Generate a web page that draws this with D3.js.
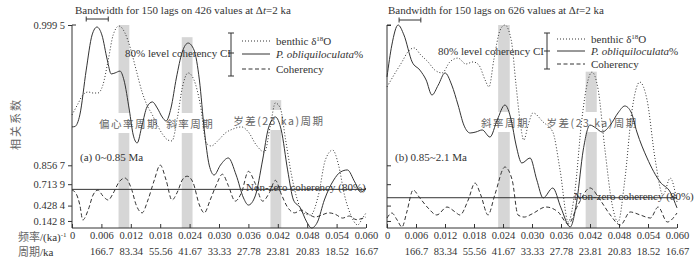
<!DOCTYPE html>
<html><head><meta charset="utf-8">
<script src="https://cdn.jsdelivr.net/npm/d3@7"></script>
<style>
body{margin:0;background:#fff}
svg{display:block}
text{font-family:"Liberation Serif","Times New Roman",serif;fill:#333}
.cjk{font-family:"Noto Sans CJK SC",sans-serif;fill:#666}
</style>
</head><body><svg id="c" width="700" height="262"></svg>
<script>
// ---------------- data ----------------
const freqTicks = [0,0.006,0.012,0.018,0.024,0.030,0.036,0.042,0.048,0.054,0.060];
const freqTickLabels = ["0","0.006","0.012","0.018","0.024","0.030","0.036","0.042","0.048","0.054","0.060"];
const periodLabels = ["","166.7","83.34","55.56","41.67","33.33","27.78","23.81","20.83","18.52","16.67"];
const coherencyTicks = [0.1428,0.4284,0.7139,0.8567,0.9995];
const coherencyTickLabels = ["0.142 8","0.428 4","0.713 9","0.856 7","0.999 5"];

// panel (a) 0~0.85 Ma — relative spectral power (0..1) and coherency
const obliqFreqA = [0,0.0006,0.0016,0.0029,0.0041,0.0051,0.0061,0.0072,0.008,0.0088,0.0098,0.0106,0.0117,0.0125,0.0133,0.0143,0.0153,0.0164,0.0174,0.0184,0.0192,0.0202,0.0213,0.0225,0.0237,0.0249,0.026,0.027,0.028,0.029,0.0303,0.0319,0.0335,0.035,0.036,0.0374,0.0389,0.0401,0.0415,0.0427,0.044,0.0452,0.0466,0.0479,0.0489,0.0501,0.0515,0.0534,0.0548,0.0562,0.0577,0.0589,0.06];
const obliqA = [0.498,0.50,0.557,0.778,0.951,0.99,0.951,0.828,0.759,0.764,0.773,0.729,0.581,0.458,0.419,0.507,0.596,0.621,0.591,0.547,0.527,0.591,0.739,0.867,0.911,0.877,0.729,0.483,0.31,0.261,0.31,0.345,0.261,0.148,0.113,0.158,0.335,0.493,0.547,0.483,0.286,0.138,0.099,0.03,0.0,0.03,0.138,0.236,0.276,0.286,0.227,0.177,0.197];
const benthicFreqA = [0,0.0012,0.0022,0.0033,0.0043,0.0053,0.0063,0.0074,0.0084,0.0096,0.0108,0.0119,0.0131,0.0143,0.0153,0.0164,0.0174,0.0186,0.0196,0.0204,0.0215,0.0225,0.0237,0.0249,0.0262,0.0274,0.0284,0.0299,0.0313,0.0329,0.0346,0.036,0.0376,0.0393,0.0405,0.0415,0.0425,0.0436,0.0448,0.046,0.0472,0.0487,0.0503,0.0517,0.0532,0.0544,0.0556,0.0569,0.0583,0.0593,0.06];
const benthicA = [0.557,0.611,0.655,0.67,0.665,0.665,0.704,0.828,0.951,0.995,0.961,0.887,0.778,0.67,0.606,0.557,0.507,0.458,0.433,0.429,0.542,0.69,0.764,0.729,0.606,0.419,0.404,0.433,0.468,0.488,0.498,0.473,0.409,0.374,0.507,0.616,0.591,0.433,0.261,0.138,0.074,0.064,0.163,0.335,0.384,0.31,0.163,0.064,0.015,0.049,0.074];
const cohFreqA = [0,0.0008,0.0016,0.0022,0.0033,0.0043,0.0053,0.0063,0.0074,0.0084,0.0096,0.0108,0.0121,0.0131,0.0143,0.0155,0.0168,0.018,0.0192,0.0204,0.0215,0.0225,0.0235,0.0247,0.026,0.027,0.0282,0.0294,0.0307,0.0319,0.0333,0.0346,0.036,0.0374,0.0389,0.0403,0.0415,0.0427,0.044,0.0454,0.0468,0.0482,0.0496,0.051,0.0524,0.0538,0.0552,0.0566,0.058,0.06];
const coherencyA = [0.65,0.61,0.438,0.162,0.352,0.588,0.65,0.575,0.517,0.61,0.735,0.77,0.67,0.438,0.30,0.517,0.753,0.858,0.753,0.517,0.625,0.753,0.785,0.73,0.438,0.30,0.517,0.70,0.80,0.70,0.50,0.62,0.82,0.72,0.50,0.62,0.75,0.60,0.40,0.30,0.35,0.28,0.22,0.26,0.30,0.27,0.20,0.24,0.17,0.22];
const nonZeroA = 0.658;
const bandsA = [[0.0095,0.0117],[0.0224,0.0246],[0.0405,0.0427]];
const bandTopsA = [1.0,0.94,0.63];
const bandLabelsA = ["偏心率周期","斜率周期","岁差(23 ka)周期"];

// panel (b) 0.85~2.1 Ma
const obliqFreqB = [0,0.001,0.0023,0.0035,0.0052,0.0068,0.0081,0.0093,0.0106,0.012,0.0134,0.0147,0.0159,0.0172,0.0184,0.0197,0.0213,0.0228,0.0244,0.0257,0.0267,0.0279,0.0296,0.031,0.0323,0.0343,0.036,0.0379,0.0393,0.0406,0.042,0.0432,0.0445,0.0462,0.0478,0.0492,0.0505,0.0517,0.0538,0.0565,0.0586,0.06];
const obliqB = [0.744,0.901,1.0,0.951,0.818,0.778,0.729,0.655,0.704,0.764,0.704,0.606,0.507,0.468,0.473,0.483,0.448,0.532,0.606,0.532,0.409,0.32,0.345,0.236,0.148,0.197,0.099,0.005,0.138,0.384,0.507,0.493,0.473,0.507,0.567,0.601,0.571,0.473,0.345,0.227,0.177,0.099];
const benthicFreqB = [0,0.0017,0.0031,0.0043,0.0056,0.007,0.0085,0.0099,0.0114,0.013,0.0147,0.0163,0.0178,0.019,0.0203,0.0211,0.0221,0.0234,0.0244,0.0257,0.0267,0.0275,0.0283,0.0292,0.0302,0.0323,0.0343,0.0358,0.0375,0.0389,0.0403,0.0416,0.0424,0.0437,0.0451,0.0466,0.0478,0.0492,0.0507,0.0523,0.0538,0.0555,0.0571,0.0586,0.06];
const benthicB = [0.695,0.764,0.818,0.867,0.887,0.852,0.818,0.778,0.764,0.818,0.837,0.808,0.818,0.803,0.729,0.695,0.828,0.975,1.0,0.926,0.704,0.532,0.433,0.507,0.567,0.522,0.473,0.286,0.03,0.187,0.532,0.729,0.768,0.68,0.384,0.113,0.03,0.236,0.581,0.719,0.631,0.335,0.163,0.246,0.128];
const cohFreqB = [0,0.001,0.0021,0.0031,0.0041,0.0054,0.0068,0.0085,0.0103,0.0124,0.0141,0.0151,0.0168,0.0182,0.0194,0.0209,0.0223,0.0244,0.0259,0.0271,0.0284,0.03,0.0329,0.0354,0.0375,0.0395,0.042,0.0441,0.0462,0.0483,0.0503,0.0524,0.0545,0.0561,0.058,0.06];
const coherencyB = [0.201,0.297,0.162,0.02,0.316,0.65,0.546,0.387,0.26,0.404,0.316,0.26,0.517,0.725,0.588,0.26,0.588,0.847,0.753,0.26,0.22,0.28,0.404,0.316,0.082,0.438,0.674,0.517,0.26,0.061,0.316,0.26,0.201,0.404,0.122,0.297];
const nonZeroB = 0.55;
const bandsB = [[0.0230,0.0254],[0.0411,0.0434]];
const bandTopsB = [1.0,0.77];
const bandLabelsB = ["斜率周期","岁差(23 ka)周期"];

// ---------------- drawing ----------------
const svg = d3.select("#c");
const yBottom = 228, yTop = 25;
const zScale = d3.scaleLinear().domain([0, Math.atanh(0.9995)]).range([yBottom, yTop]);
const yCoh = c => zScale(Math.atanh(c));
const ySpec = d3.scaleLinear().domain([0,1]).range([yBottom, yTop]);
const ink = "#333";

function panel(o){
  const x = d3.scaleLinear().domain([0,0.06]).range(o.xr);
  const g = svg.append("g");
  o.bands.forEach((b,i)=>{
    g.append("rect").attr("x",x(b[0])).attr("width",x(b[1])-x(b[0]))
      .attr("y",ySpec(o.bandTops[i])).attr("height",yBottom-ySpec(o.bandTops[i]))
      .attr("fill","#d6d6d6");
  });
  o.bands.forEach((b,i)=>{
    const t = g.append("text").attr("class","cjk").attr("x",x((b[0]+b[1])/2)+o.labelDx[i])
      .attr("y",o.labelY[i]).attr("text-anchor","middle").attr("font-size",10.5)
      .attr("letter-spacing",1.5).text(o.bandLabels[i]);
    const bb = t.node().getBBox();
    g.insert("rect", () => t.node()).attr("x",bb.x-1).attr("y",bb.y-3).attr("width",bb.width+2)
      .attr("height",bb.height+5).attr("fill","#fff");
  });
  g.append("line").attr("x1",o.xr[0]).attr("x2",o.xr[1]).attr("y1",yCoh(o.nonZero)).attr("y2",yCoh(o.nonZero))
    .attr("stroke",ink).attr("stroke-width",1);
  g.append("text").attr("x",o.nzX).attr("y",yCoh(o.nonZero)+2).attr("font-size",11).attr("fill","#444").text("Non-zero coherency (80%)");
  const lineS = (fr, vals, yf) => d3.line().curve(d3.curveMonotoneX).x((d,i)=>x(fr[i])).y(d=>yf(d))(vals);
  g.append("path").attr("d",lineS(o.benthicFreq,o.benthic,ySpec)).attr("fill","none").attr("stroke",ink)
    .attr("stroke-width",1).attr("stroke-dasharray","1,2");
  g.append("path").attr("d",lineS(o.obliqFreq,o.obliq,ySpec)).attr("fill","none").attr("stroke",ink).attr("stroke-width",1);
  g.append("path").attr("d",lineS(o.cohFreq,o.coh,yCoh)).attr("fill","none").attr("stroke",ink)
    .attr("stroke-width",1).attr("stroke-dasharray","4,2.5");
  const xa = g.append("g").attr("transform",`translate(0,${yBottom})`)
    .call(d3.axisBottom(x).tickValues(freqTicks).tickSize(-4).tickPadding(4).tickFormat((d,i)=>freqTickLabels[i]));
  xa.select(".domain").attr("d",`M${o.xr[0]},0H${o.xr[1]}`).attr("stroke",ink);
  xa.selectAll(".tick line").attr("stroke",ink);
  xa.selectAll(".tick text").attr("font-size",10.5).attr("font-family","Liberation Serif").attr("fill",ink);
  xa.selectAll(".tick").append("text").attr("y",20).attr("dy","0.71em").attr("fill",ink)
    .attr("font-size",10.5).attr("font-family","Liberation Serif").attr("text-anchor","middle")
    .text((d,i)=>periodLabels[i]);
  const ya = g.append("g").attr("transform",`translate(${o.xr[0]},0)`)
    .call(d3.axisLeft(zScale).tickValues(coherencyTicks.map(Math.atanh)).tickSize(o.showY?4:-4).tickPadding(3)
      .tickFormat((d,i)=>o.showY?coherencyTickLabels[i]:""));
  ya.select(".domain").attr("d",`M0,${yTop}V${yBottom}`).attr("stroke",ink);
  ya.selectAll(".tick line").attr("stroke",ink);
  ya.selectAll(".tick text").attr("font-size",10.5).attr("font-family","Liberation Serif").attr("fill",ink);
  ya.append("line").attr("x1",0).attr("x2",4).attr("y1",yTop).attr("y2",yTop).attr("stroke",ink);
  svg.append("text").attr("x",o.xr[0]+o.bwDx).attr("y",14).attr("font-size",11)
    .html(`Bandwidth for 150 lags on ${o.nvals} values at Δ<tspan font-style="italic">t</tspan>=2 ka`);
  const bw = [x(o.bw[0]),x(o.bw[1])];
  svg.append("path").attr("d",`M${bw[0]},${o.bwY}H${bw[1]}M${bw[0]},${o.bwY-2.5}V${o.bwY+2.5}M${bw[1]},${o.bwY-2.5}V${o.bwY+2.5}`)
    .attr("stroke",ink).attr("fill","none");
  svg.append("text").attr("x",o.ciX).attr("y",o.ciY+4).attr("font-size",11).text("80% level coherency CI");
  const bx=o.brX;
  svg.append("path").attr("d",`M${bx},${o.brTop}V${o.brBot}M${bx-3},${o.brTop}H${bx+3}M${bx-3},${o.brBot}H${bx+3}M${bx-3},${o.ciY}H${bx+3}`)
    .attr("stroke",ink).attr("fill","none");
  const leg = ["1,2","","4,2.5"];
  leg.forEach((l,i)=>{
    const yy=o.legY[i];
    svg.append("line").attr("x1",o.legX).attr("x2",o.legX+28).attr("y1",yy).attr("y2",yy).attr("stroke",ink)
      .attr("stroke-dasharray",l||null);
    const t=svg.append("text").attr("x",o.legX+34).attr("y",yy+4).attr("font-size",11);
    if(i===0){t.text("benthic δ");t.append("tspan").attr("font-size",7).attr("dy",-4).text("18");t.append("tspan").attr("dy",4).text("O");}
    else if(i===1){t.attr("font-style","italic").text("P. obliquiloculata");t.append("tspan").attr("font-style","normal").text("%");}
    else t.text("Coherency");
  });
  svg.append("text").attr("x",o.tagX).attr("y",161).attr("font-size",11).text(o.tag);
}

panel({xr:[72,366],benthicFreq:benthicFreqA,benthic:benthicA,obliqFreq:obliqFreqA,obliq:obliqA,
  cohFreq:cohFreqA,coh:coherencyA,nonZero:nonZeroA,bands:bandsA,bandTops:bandTopsA,bandLabels:bandLabelsA,
  labelY:[128,128,125],labelDx:[5,3,3],nzX:246,showY:true,nvals:426,bwDx:3,bw:[0.0029,0.0074],bwY:19,
  ciX:125,ciY:53,brX:231,brTop:33,brBot:76,legX:242,legY:[41,54,69],tag:"(a) 0~0.85 Ma",tagX:80});
panel({xr:[387,677],benthicFreq:benthicFreqB,benthic:benthicB,obliqFreq:obliqFreqB,obliq:obliqB,
  cohFreq:cohFreqB,coh:coherencyB,nonZero:nonZeroB,bands:bandsB,bandTops:bandTopsB,bandLabels:bandLabelsB,
  labelY:[127,127],labelDx:[1,1],nzX:574,showY:false,nvals:626,bwDx:1,bw:[0.0025,0.007],bwY:20,
  ciX:438,ciY:51,brX:547,brTop:33,brBot:69,legX:557,legY:[39,51,64],tag:"(b) 0.85~2.1 Ma",tagX:395});

svg.append("text").attr("class","cjk").attr("transform","translate(20,124) rotate(-90)").attr("text-anchor","middle")
  .attr("font-size",11).attr("letter-spacing",2).text("相关系数");
const ft = svg.append("text").attr("x",18).attr("y",241).attr("font-size",11);
ft.append("tspan").attr("class","cjk").text("频率");
ft.append("tspan").text("/(ka)");
ft.append("tspan").attr("font-size",7).attr("dy",-4).text("-1");
const pt = svg.append("text").attr("x",18).attr("y",256).attr("font-size",11);
pt.append("tspan").attr("class","cjk").text("周期");
pt.append("tspan").text("/ka");
</script>
</body></html>
